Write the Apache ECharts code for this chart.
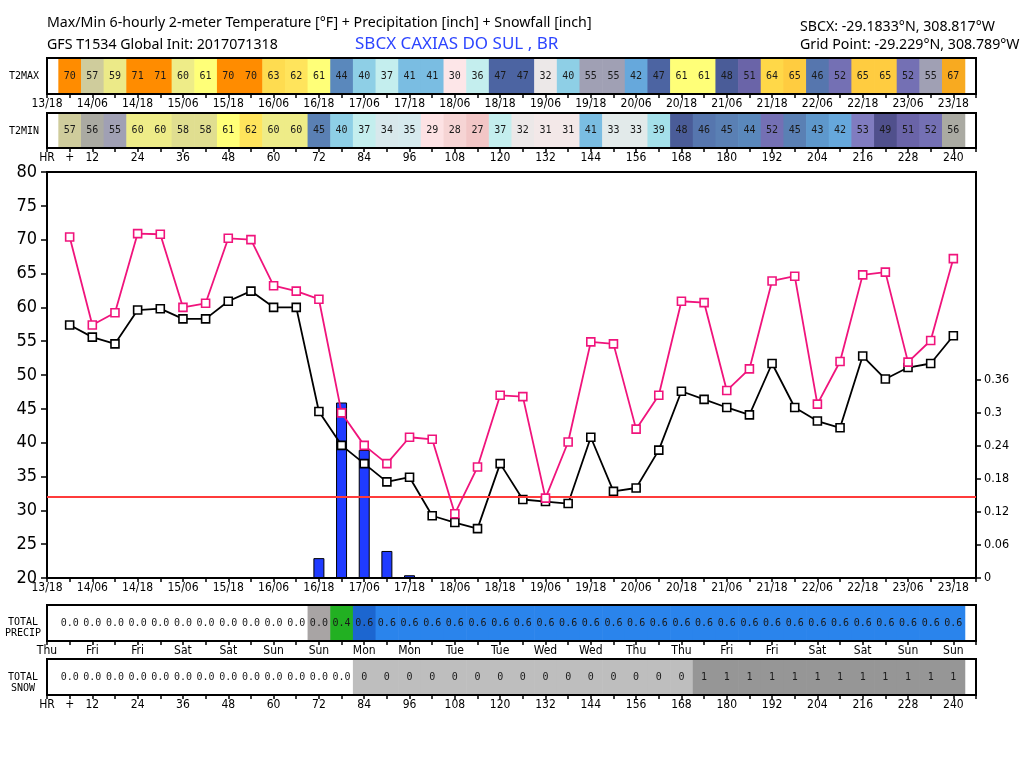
<!DOCTYPE html>
<html><head><meta charset="utf-8">
<script src="https://cdn.jsdelivr.net/npm/echarts@6/dist/echarts.min.js"></script>
<style>html,body{margin:0;padding:0;background:#fff}#c{width:1024px;height:768px}</style>
</head><body><div id="c"></div>
<script>
// forecast hours (6-hourly, from init 2017071318)
const hours = [6,12,18,24,30,36,42,48,54,60,66,72,78,84,90,96,102,108,114,120,126,132,138,144,150,156,162,168,174,180,186,192,198,204,210,216,222,228,234,240];
// 12-hourly tick labels
const dateLabels = ['13/18','14/06','14/18','15/06','15/18','16/06','16/18','17/06','17/18','18/06','18/18','19/06','19/18','20/06','20/18','21/06','21/18','22/06','22/18','23/06','23/18'];
const hrLabels = ['HR','12','24','36','48','60','72','84','96','108','120','132','144','156','168','180','192','204','216','228','240'];
const dayLabels = ['Thu','Fri','Fri','Sat','Sat','Sun','Sun','Mon','Mon','Tue','Tue','Wed','Wed','Thu','Thu','Fri','Fri','Sat','Sat','Sun','Sun'];
// temperatures (°F)
const tmaxLine = [70.4,57.4,59.2,70.9,70.8,60.0,60.6,70.2,70.0,63.2,62.4,61.2,44.4,39.6,36.9,40.8,40.5,29.5,36.4,47.0,46.8,31.8,40.1,54.9,54.6,42.0,47.0,60.9,60.7,47.7,50.9,63.9,64.6,45.7,52.0,64.8,65.2,51.9,55.1,67.2];
const tminLine = [57.4,55.6,54.6,59.6,59.8,58.3,58.3,60.9,62.4,60.0,60.0,44.6,39.6,36.9,34.2,34.9,29.2,28.2,27.3,36.9,31.6,31.3,31.0,40.8,32.8,33.3,38.9,47.6,46.4,45.2,44.1,51.7,45.2,43.2,42.2,52.8,49.4,51.1,51.7,55.8];
const tmaxCells = [70,57,59,71,71,60,61,70,70,63,62,61,44,40,37,41,41,30,36,47,47,32,40,55,55,42,47,61,61,48,51,64,65,46,52,65,65,52,55,67];
const tminCells = [57,56,55,60,60,58,58,61,62,60,60,45,40,37,34,35,29,28,27,37,32,31,31,41,33,33,39,48,46,45,44,52,45,43,42,53,49,51,52,56];
// 6-hourly precipitation (inch)
const precip6h = [0,0,0,0,0,0,0,0,0,0,0,0.036,0.318,0.232,0.049,0.005,0,0,0,0,0,0,0,0,0,0,0,0,0,0,0,0,0,0,0,0,0,0,0,0];
// accumulated precipitation (inch)
const precipTotal = [0,0,0,0,0,0,0,0,0,0,0,0.036,0.354,0.586,0.635,0.64,0.64,0.64,0.64,0.64,0.64,0.64,0.64,0.64,0.64,0.64,0.64,0.64,0.64,0.64,0.64,0.64,0.64,0.64,0.64,0.64,0.64,0.64,0.64,0.64];
// accumulated snowfall labels (inch)
const snowTotal = ['0.0','0.0','0.0','0.0','0.0','0.0','0.0','0.0','0.0','0.0','0.0','0.0','0.0','0','0','0','0','0','0','0','0','0','0','0','0','0','0','0','1','1','1','1','1','1','1','1','1','1','1','1'];
const freezing = 32;

const tempColors = {27:'#f2c6c6',28:'#f6d4d4',29:'#fde2e4',30:'#fde6e8',31:'#f3e8e8',32:'#ece8e8',33:'#e2eaea',34:'#d8e8ec',35:'#d6eaee',36:'#c4eeee',37:'#c4eeee',38:'#b4e8ee',39:'#a4e0ea',40:'#8ecfe6',41:'#7abde2',42:'#66a8dc',43:'#5e98cc',44:'#5a88bc',45:'#5a80b4',46:'#5676ae',47:'#4c64a2',48:'#4a5c98',49:'#50508c',50:'#5c5898',51:'#6a64a8',52:'#7470b4',53:'#807cc0',54:'#9090b8',55:'#a0a0b4',56:'#aaaaa2',57:'#cfcc9c',58:'#e0de90',59:'#ecea88',60:'#eeec88',61:'#ffff78',62:'#ffe45c',63:'#fedc50',64:'#ffd848',65:'#ffcc40',66:'#fcbc30',67:'#f8aa20',68:'#f89c10',69:'#fa9408',70:'#ff8c00',71:'#ff8c00'};
function precipColor(v){ if(v<=0) return '#ffffff'; if(v<0.1) return '#a8a4a4'; if(v<0.5) return '#22b022'; if(v<0.6) return '#1c66d0'; return '#2a84ec'; }
function snowColor(s){ if(s==='0.0') return '#ffffff'; if(s==='0') return '#bebebe'; return '#969696'; }

const LEFT=47, WIDTH=929;
const cond = 'DejaVu Sans Condensed';
const dateFmt = v => (v%12===0 && dateLabels[v/12]!==undefined) ? dateLabels[v/12] : '';
const hrFmt = v => v===6 ? '+' : ((v%12===0 && hrLabels[v/12]!==undefined) ? hrLabels[v/12] : '');
const dayFmt = v => (v%12===0 && dayLabels[v/12]!==undefined) ? dayLabels[v/12] : '';

function xAx(grid, fmt, fs){
  return {type:'value', gridIndex:grid, min:0, max:246, interval:6, position:'bottom',
    axisLine:{show:true, lineStyle:{color:'#000', width:2}},
    axisTick:{show:true, inside:false, length:4, lineStyle:{color:'#000', width:1.5}},
    axisLabel:{formatter:fmt, color:'#000', fontSize:fs, fontFamily:cond, margin:4, showMinLabel:true, showMaxLabel:true},
    splitLine:{show:false}};
}
function hiddenY(grid){ return {type:'value', gridIndex:grid, min:0, max:1, show:false}; }
function cellSeries(xi, yi, texts, colors){
  return {type:'custom', xAxisIndex:xi, yAxisIndex:yi, silent:true, z:1,
    data: hours.map(h=>[h,0.5]),
    renderItem:(params, api)=>{
      const c = api.coord([api.value(0), api.value(1)]);
      const w = api.size([6,0])[0];
      const cs = params.coordSys;
      return {type:'group', children:[
        {type:'rect', shape:{x:c[0]-w/2, y:cs.y+1, width:w+0.6, height:cs.height-2}, style:{fill:colors[params.dataIndex]}},
        {type:'text', x:c[0], y:c[1], style:{text:String(texts[params.dataIndex]), align:'center', verticalAlign:'middle', fontSize:10, fontFamily:'DejaVu Sans Mono', fill:'#1a1a1a'}}
      ]};
    }};
}
const gridStyle = {show:true, borderColor:'#000', borderWidth:2, backgroundColor:'transparent', containLabel:false};

const option = {
  animation:false,
  backgroundColor:'#fff',
  grid:[
    Object.assign({left:LEFT, width:WIDTH, top:58, height:36}, gridStyle),
    Object.assign({left:LEFT, width:WIDTH, top:113, height:35}, gridStyle),
    Object.assign({left:LEFT, width:WIDTH, top:172, height:406}, gridStyle),
    Object.assign({left:LEFT, width:WIDTH, top:605, height:36}, gridStyle),
    Object.assign({left:LEFT, width:WIDTH, top:659, height:36}, gridStyle)
  ],
  xAxis:[ xAx(0,dateFmt,12), xAx(1,hrFmt,12), xAx(2,dateFmt,12), xAx(3,dayFmt,12), xAx(4,hrFmt,12) ],
  yAxis:[
    hiddenY(0), hiddenY(1),
    {type:'value', gridIndex:2, min:20, max:80, interval:5, position:'left',
      axisLine:{show:true, lineStyle:{color:'#000', width:2}},
      axisTick:{show:true, length:6, lineStyle:{color:'#000', width:1.5}},
      axisLabel:{color:'#000', fontSize:18, fontFamily:cond, margin:10},
      splitLine:{show:false}},
    {type:'value', gridIndex:2, min:0, max:0.7356, interval:0.06, position:'right',
      axisLine:{show:true, lineStyle:{color:'#000', width:2}},
      axisTick:{show:true, length:5, lineStyle:{color:'#000', width:1.5}, customValues:[0,0.06,0.12,0.18,0.24,0.3,0.36]},
      axisLabel:{color:'#000', fontSize:12.5, fontFamily:cond, margin:8, customValues:[0,0.06,0.12,0.18,0.24,0.3,0.36]},
      splitLine:{show:false}},
    hiddenY(3), hiddenY(4)
  ],
  series:[
    cellSeries(0,0,tmaxCells, tmaxCells.map(v=>tempColors[v]||'#ffffff')),
    cellSeries(1,1,tminCells, tminCells.map(v=>tempColors[v]||'#ffffff')),
    cellSeries(3,4,precipTotal.map(v=>v.toFixed(1)), precipTotal.map(precipColor)),
    cellSeries(4,5,snowTotal, snowTotal.map(snowColor)),
    {type:'bar', xAxisIndex:2, yAxisIndex:3, barWidth:11, silent:true, z:2,
      data: hours.map((h,i)=>[h, precip6h[i]]),
      itemStyle:{color:'#1f3bff', borderColor:'#000', borderWidth:1}},
    {type:'line', xAxisIndex:2, yAxisIndex:2, silent:true, z:4,
      data: hours.map((h,i)=>[h, tminLine[i]]),
      symbol:'rect', symbolSize:8, showAllSymbol:true,
      lineStyle:{color:'#000', width:1.8},
      itemStyle:{color:'#fff', borderColor:'#000', borderWidth:1.6},
      markLine:{silent:true, symbol:['none','none'], label:{show:false},
        lineStyle:{color:'#ff3b3b', width:2, type:'solid'}, data:[{yAxis:freezing}]}},
    {type:'line', xAxisIndex:2, yAxisIndex:2, silent:true, z:5,
      data: hours.map((h,i)=>[h, tmaxLine[i]]),
      symbol:'rect', symbolSize:8, showAllSymbol:true,
      lineStyle:{color:'#f0147c', width:1.8},
      itemStyle:{color:'#fff', borderColor:'#f0147c', borderWidth:1.6}}
  ],
  graphic:[
    {type:'text', left:47, top:16, style:{text:'Max/Min 6-hourly 2-meter Temperature [°F] + Precipitation [inch] + Snowfall [inch]', font:'14.2px "Noto Sans"', fill:'#000'}},
    {type:'text', left:47, top:38, style:{text:'GFS T1534 Global Init: 2017071318', font:'14.2px "Noto Sans"', fill:'#000'}},
    {type:'text', left:355, top:36, style:{text:'SBCX CAXIAS DO SUL , BR', font:'17px "Noto Sans"', fill:'#2d45ff'}},
    {type:'text', left:800, top:20, style:{text:'SBCX: -29.1833°N, 308.817°W', font:'14.2px "Noto Sans"', fill:'#000'}},
    {type:'text', left:800, top:38, style:{text:'Grid Point: -29.229°N, 308.789°W', font:'14.2px "Noto Sans"', fill:'#000'}},
    {type:'text', x:24, y:76, style:{text:'T2MAX', align:'center', verticalAlign:'middle', font:'10px "DejaVu Sans Mono"', fill:'#000'}},
    {type:'text', x:24, y:131, style:{text:'T2MIN', align:'center', verticalAlign:'middle', font:'10px "DejaVu Sans Mono"', fill:'#000'}},
    {type:'text', x:23, y:628, style:{text:'TOTAL\nPRECIP', align:'center', verticalAlign:'middle', lineHeight:11, font:'10px "DejaVu Sans Mono"', fill:'#000'}},
    {type:'text', x:23, y:683, style:{text:'TOTAL\nSNOW', align:'center', verticalAlign:'middle', lineHeight:11, font:'10px "DejaVu Sans Mono"', fill:'#000'}}
  ]
};
const chart = echarts.init(document.getElementById('c'), null, {renderer:'canvas'});
chart.setOption(option);
</script></body></html>
